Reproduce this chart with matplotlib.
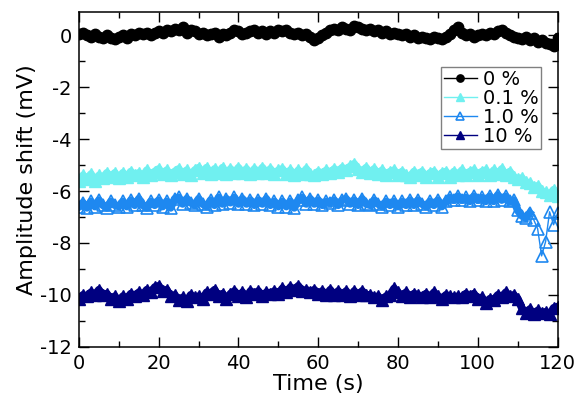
import numpy as np
import matplotlib
matplotlib.use("Agg")
import matplotlib.pyplot as plt
from matplotlib.ticker import MultipleLocator

# time axis, one reading per second
time_s = np.arange(0, 121, 1)

# 0 %
amp_0 = [
    0.05, 0.1, 0.0, -0.05, 0.05, -0.05, -0.1, 0.0, -0.1, -0.15, -0.05,
    0.0, -0.1, 0.05, 0.0, 0.1, 0.05, 0.1, 0.0, 0.1, 0.15,
    0.1, 0.2, 0.15, 0.25, 0.2, 0.3, 0.1, 0.2, 0.15, 0.05,
    0.1, 0.0, 0.05, 0.1, -0.05, 0.05, 0.0, 0.1, 0.2, 0.15,
    0.05, 0.1, 0.15, 0.2, 0.1, 0.15, 0.05, 0.15, 0.1, 0.2,
    0.15, 0.2, 0.1, 0.05, 0.1, 0.0, 0.05, -0.05, -0.2, -0.1,
    0.0, 0.1, 0.2, 0.25, 0.2, 0.3, 0.25, 0.2, 0.35, 0.3,
    0.25, 0.2, 0.25, 0.15, 0.2, 0.1, 0.15, 0.05, 0.1, 0.05,
    0.0, 0.05, -0.05, 0.0, -0.1, -0.05, -0.1, -0.15, -0.05, -0.1,
    -0.15, -0.05, 0.05, 0.2, 0.3, 0.1, 0.0, 0.05, -0.05, 0.0,
    0.05, 0.0, 0.1, 0.05, 0.15, 0.2, 0.1, 0.0, -0.05, -0.1,
    -0.15, -0.05, -0.2, -0.1, -0.25, -0.2, -0.3, -0.35, -0.4, -0.1,
]

# 0.1 %
amp_01 = [
    -5.6, -5.4, -5.55, -5.35, -5.6, -5.4, -5.5, -5.3, -5.45, -5.3, -5.5,
    -5.3, -5.45, -5.25, -5.4, -5.3, -5.45, -5.2, -5.4, -5.25, -5.15,
    -5.35, -5.2, -5.4, -5.25, -5.15, -5.35, -5.2, -5.4, -5.2, -5.1,
    -5.3, -5.1, -5.35, -5.15, -5.3, -5.1, -5.35, -5.15, -5.3, -5.1,
    -5.3, -5.15, -5.35, -5.15, -5.3, -5.1, -5.3, -5.15, -5.35, -5.2,
    -5.15, -5.35, -5.2, -5.4, -5.2, -5.35, -5.15, -5.35, -5.4, -5.25,
    -5.35, -5.2, -5.3, -5.15, -5.25, -5.1, -5.2, -5.05, -4.95, -5.15,
    -5.25, -5.1, -5.3, -5.15, -5.35, -5.2, -5.4, -5.25, -5.2, -5.4,
    -5.25, -5.4, -5.45, -5.25, -5.4, -5.25, -5.45, -5.3, -5.25, -5.45,
    -5.3, -5.25, -5.45, -5.25, -5.4, -5.2, -5.4, -5.25, -5.2, -5.4,
    -5.25, -5.2, -5.4, -5.2, -5.35, -5.15, -5.4, -5.25, -5.45, -5.55,
    -5.5, -5.65, -5.7, -5.85, -5.8, -6.0, -6.05, -6.15, -5.95, -6.2,
]

# 1.0 %
amp_10 = [
    -6.6, -6.45, -6.65, -6.4, -6.6, -6.35, -6.55, -6.65, -6.4, -6.55, -6.6,
    -6.4, -6.6, -6.35, -6.55, -6.3, -6.55, -6.65, -6.4, -6.55, -6.35,
    -6.6, -6.4, -6.65, -6.3, -6.25, -6.5, -6.3, -6.45, -6.55, -6.3,
    -6.5, -6.6, -6.35, -6.55, -6.25, -6.5, -6.3, -6.45, -6.25, -6.5,
    -6.3, -6.5, -6.35, -6.55, -6.35, -6.5, -6.3, -6.55, -6.4, -6.6,
    -6.4, -6.6, -6.4, -6.65, -6.35, -6.25, -6.5, -6.3, -6.5, -6.35,
    -6.55, -6.4, -6.45, -6.35, -6.55, -6.35, -6.3, -6.5, -6.35, -6.55,
    -6.3, -6.5, -6.55, -6.35, -6.5, -6.6, -6.4, -6.55, -6.4, -6.6,
    -6.4, -6.55, -6.35, -6.55, -6.35, -6.5, -6.6, -6.4, -6.55, -6.35,
    -6.6, -6.4, -6.25, -6.35, -6.2, -6.35, -6.25, -6.4, -6.2, -6.35,
    -6.25, -6.4, -6.2, -6.4, -6.15, -6.35, -6.2, -6.4, -6.35, -6.75,
    -6.95, -7.05, -6.85, -7.1, -7.45, -8.5, -7.95, -6.8, -7.3, -6.85,
]

# 10 %
amp_100 = [
    -10.15, -10.0, -10.05, -9.9, -10.0, -9.8, -10.0, -9.95, -10.15, -10.05, -10.25,
    -10.05, -10.15, -9.95, -10.05, -9.9, -10.0, -9.8, -9.9, -9.7, -9.65,
    -9.85, -9.8, -10.05, -10.0, -10.2, -10.1, -10.25, -10.0, -10.1, -10.05,
    -10.15, -9.9, -9.95, -9.8, -10.05, -9.95, -10.15, -9.95, -9.85, -10.05,
    -9.9, -10.1, -9.85, -9.95, -9.85, -10.05, -9.9, -9.95, -9.85, -9.95,
    -9.75, -9.9, -9.7, -9.8, -9.65, -9.85, -9.8, -9.9, -9.8, -9.95,
    -9.85, -10.0, -9.8, -10.0, -9.85, -10.0, -9.85, -10.05, -9.85, -10.0,
    -9.85, -10.0, -10.0, -10.1, -10.05, -10.2, -10.05, -10.0, -9.75, -9.9,
    -10.05, -9.9, -10.1, -9.95, -10.0, -10.1, -9.95, -10.1, -9.9, -10.05,
    -10.15, -10.0, -10.05, -10.1, -10.05, -10.1, -9.95, -10.05, -9.95, -10.15,
    -10.1, -10.3, -10.15, -10.2, -10.0, -10.1, -9.9, -10.05, -10.0, -10.15,
    -10.5, -10.7, -10.55, -10.75, -10.6, -10.7, -10.65, -10.75, -10.5, -10.45,
]

labels = ["0 %", "0.1 %", "1.0 %", "10 %"]
colors = ['black', '#70F0F0', '#1E88F0', '#000080']

plt.rcParams['font.family'] = ['DejaVu Sans']
plt.rcParams['axes.unicode_minus'] = False

fig = plt.figure(figsize=(5.76, 4.08), dpi=100)
ax = fig.add_axes([0.137, 0.150, 0.831, 0.821])

# thick zigzag underneath so the dense markers read as one band
# (the 1.0 % trace breaks into single points near the end, so stop before that)
band_end = [121, 121, 114, 121]
for ys, c, n in zip([amp_0, amp_01, amp_10, amp_100], colors, band_end):
    ax.plot(time_s[:n], ys[:n], '-', color=c, lw=5.5)

ax.plot(time_s, amp_0, '-o', color=colors[0], ms=7.5, lw=1, label=labels[0])
ax.plot(time_s, amp_01, '-^', color=colors[1], ms=8, lw=1, label=labels[1])
ax.plot(time_s, amp_10, '-^', color=colors[2], mfc='none',
        mew=1.2, ms=8, lw=1, label=labels[2])
ax.plot(time_s, amp_100, '-^', color=colors[3], ms=8, lw=1, label=labels[3])

ax.set_xlim(0, 120)
ax.set_ylim(-12, 0.9)
ax.xaxis.set_major_locator(MultipleLocator(20))
ax.xaxis.set_minor_locator(MultipleLocator(10))
ax.yaxis.set_major_locator(MultipleLocator(2))
ax.yaxis.set_minor_locator(MultipleLocator(1))
ax.tick_params(which='both', direction='in', top=True, right=True, width=1)
ax.tick_params(which='major', length=7, labelsize=14, pad=5)
ax.tick_params(which='minor', length=4)
for s in ax.spines.values():
    s.set_linewidth(1.1)

ax.set_xlabel('Time (s)', fontsize=16, labelpad=1)
ax.set_ylabel('Amplitude shift (mV)', fontsize=16, labelpad=2)

leg = ax.legend(loc='upper right', bbox_to_anchor=(0.966, 0.836), fontsize=14,
                handlelength=1.7, handletextpad=0.3, labelspacing=0.0,
                borderpad=0.15, borderaxespad=0, fancybox=False, framealpha=1,
                markerscale=0.7)
leg.get_frame().set_edgecolor('#808080')
leg.get_frame().set_linewidth(1)

fig.savefig('out.png', dpi=100)
